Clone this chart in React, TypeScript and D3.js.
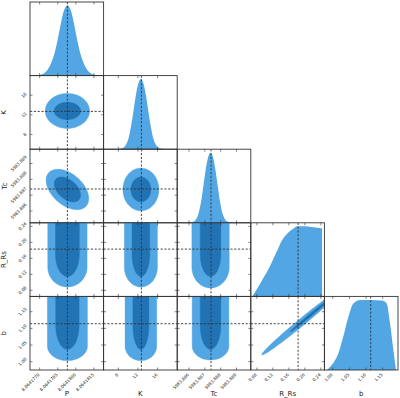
import React from 'react';
import * as d3 from 'd3';

// parameter names, plotted ranges and truth values
const names = ['P', 'K', 'Tc', 'R_Rs', 'b'];
const ranges: [number, number][] = [
  [8.0641762, 8.0641823],
  [5, 20],
  [5983.885254, 5983.889903],
  [0.0648, 0.2488],
  [0.975, 1.196],
];
const truths = [8.0641793, 12.7, 5983.88739, 0.183, 1.114];
const tickValues = [
  [8.064177, 8.0641785, 8.06418, 8.0641815],
  [8, 12, 16],
  [5983.886, 5983.887, 5983.888, 5983.889],
  [0.08, 0.12, 0.16, 0.2, 0.24],
  [1.0, 1.05, 1.1, 1.15],
];
const tickFormats = ['.7f', 'd', '.3f', '.2f', '.2f'];

// 1D marginals, [value, relative density]
const pDensity: [number, number][] = [
  [8.0641766, 0], [8.0641768, 0.005], [8.0641772, 0.02], [8.0641776, 0.07], [8.0641779, 0.16],
  [8.0641782, 0.3], [8.0641785, 0.52], [8.0641788, 0.78], [8.064179, 0.92], [8.0641793, 1.0],
  [8.0641796, 0.92], [8.0641798, 0.78], [8.0641801, 0.52], [8.0641804, 0.3], [8.0641807, 0.16],
  [8.064181, 0.07], [8.0641814, 0.02], [8.0641818, 0.005], [8.064182, 0],
];
const kDensity: [number, number][] = [
  [7.1, 0], [8.1, 0.004], [9.1, 0.025], [9.6, 0.07], [10.1, 0.16], [10.6, 0.33], [11.1, 0.55],
  [11.6, 0.78], [12.1, 0.94], [12.6, 1.0], [13.1, 0.94], [13.6, 0.78], [14.1, 0.55], [14.6, 0.33],
  [15.1, 0.16], [15.6, 0.07], [16.1, 0.025], [17.1, 0.004], [18.1, 0],
];
const tcDensity: [number, number][] = [
  [5983.88576, 0], [5983.88596, 0.002], [5983.88626, 0.015], [5983.88646, 0.055], [5983.88661, 0.14],
  [5983.88676, 0.3], [5983.88691, 0.53], [5983.88706, 0.77], [5983.88721, 0.94], [5983.88736, 1.0],
  [5983.88751, 0.94], [5983.88766, 0.77], [5983.88781, 0.53], [5983.88796, 0.3], [5983.88811, 0.14],
  [5983.88826, 0.055], [5983.88846, 0.015], [5983.88876, 0.002], [5983.88896, 0],
];
const rDensity: [number, number][] = [
  [0.068, 0], [0.0765, 0.07], [0.093, 0.23], [0.11, 0.4], [0.1266, 0.6], [0.143, 0.8], [0.16, 0.92],
  [0.172, 0.97], [0.181, 1.0], [0.2, 1.0], [0.215, 0.99], [0.23, 0.98], [0.243, 0.97], [0.2432, 0],
];
const bDensity: [number, number][] = [
  [0.982, 0], [0.997, 0.07], [1.017, 0.24], [1.032, 0.48], [1.047, 0.76], [1.062, 0.95], [1.082, 1.0],
  [1.115, 1.0], [1.147, 0.99], [1.162, 0.95], [1.172, 0.67], [1.182, 0.29], [1.19, 0],
];
const densities = [pDensity, kDensity, tcDensity, rDensity, bDensity];

// 2D credible regions (level 0 = outer, 1 = inner)
// elliptical ones: centre, half extents and correlation
type Ell = { row: number; col: number; level: number; cx: number; cy: number; sx: number; sy: number; rho: number };
const ellipseContours: Ell[] = [
  { row: 1, col: 0, level: 0, cx: 8.0641793, cy: 12.8, sx: 1.84e-6, sy: 3.57, rho: 0 },
  { row: 1, col: 0, level: 1, cx: 8.0641793, cy: 12.8, sx: 1.1e-6, sy: 1.78, rho: 0 },
  { row: 2, col: 0, level: 0, cx: 8.0641793, cy: 5983.88736, sx: 1.77e-6, sy: 0.00128, rho: -0.45 },
  { row: 2, col: 0, level: 1, cx: 8.0641793, cy: 5983.88736, sx: 1.09e-6, sy: 0.00079, rho: -0.45 },
  { row: 2, col: 1, level: 0, cx: 12.6, cy: 5983.88736, sx: 3.67, sy: 0.00135, rho: 0 },
  { row: 2, col: 1, level: 1, cx: 12.6, cy: 5983.88736, sx: 2.04, sy: 0.00078, rho: 0 },
  { row: 4, col: 3, level: 0, cx: 0.192, cy: 1.119, sx: 0.1, sy: 0.099, rho: 0.99 },
  { row: 4, col: 3, level: 1, cx: 0.214, cy: 1.14, sx: 0.05, sy: 0.05, rho: 0.995 },
];
// regions cut by the upper prior edge: centre, half width, where the bottom bends, bottom
type U = { row: number; col: number; level: number; cx: number; w: number; bend: number; bottom: number };
const uContours: U[] = [
  { row: 3, col: 0, level: 0, cx: 8.0641793, w: 1.63e-6, bend: 0.138, bottom: 0.0883 },
  { row: 3, col: 0, level: 1, cx: 8.0641793, w: 0.99e-6, bend: 0.171, bottom: 0.1146 },
  { row: 3, col: 1, level: 0, cx: 12.6, w: 3.37, bend: 0.138, bottom: 0.0883 },
  { row: 3, col: 1, level: 1, cx: 12.6, w: 1.8, bend: 0.171, bottom: 0.1146 },
  { row: 3, col: 2, level: 0, cx: 5983.88736, w: 0.00118, bend: 0.138, bottom: 0.0858 },
  { row: 3, col: 2, level: 1, cx: 5983.88736, w: 0.00065, bend: 0.171, bottom: 0.1148 },
  { row: 4, col: 0, level: 0, cx: 8.0641793, w: 1.66e-6, bend: 1.047, bottom: 1.003 },
  { row: 4, col: 0, level: 1, cx: 8.0641793, w: 0.97e-6, bend: 1.11, bottom: 1.037 },
  { row: 4, col: 1, level: 0, cx: 12.6, w: 3.23, bend: 1.047, bottom: 1.003 },
  { row: 4, col: 1, level: 1, cx: 12.6, w: 1.63, bend: 1.11, bottom: 1.037 },
  { row: 4, col: 2, level: 0, cx: 5983.88736, w: 0.00116, bend: 1.047, bottom: 1.005 },
  { row: 4, col: 2, level: 1, cx: 5983.88736, w: 0.00065, bend: 1.11, bottom: 1.037 },
];

const LEFT = 30;
const TOP = 2;
const CELL = 73.6;
const N = names.length;
const LIGHT = '#52a6e3';
const DARK = '#2273b4';
const FRAME = '#333';
const TICK_FS = 4.3;

function ellipsePoints(e: Ell): [number, number][] {
  const k = Math.sqrt(1 - e.rho * e.rho);
  return d3.range(73).map((i) => {
    const t = (i / 72) * 2 * Math.PI;
    return [e.cx + e.sx * Math.cos(t), e.cy + e.sy * (e.rho * Math.cos(t) + k * Math.sin(t))];
  });
}

function uPoints(u: U, top: number): [number, number][] {
  const arc = d3.range(37).map((i) => {
    const t = (i / 36) * Math.PI;
    return [u.cx - u.w * Math.cos(t), u.bend - (u.bend - u.bottom) * Math.sin(t)] as [number, number];
  });
  return [[u.cx - u.w, top], ...arc, [u.cx + u.w, top]];
}

function labelWidth(s: string) {
  let w = 0;
  for (const ch of s) w += ch === '.' ? 0.318 : 0.636;
  return w * TICK_FS;
}

export default function App() {
  const xs = ranges.map((r, i) => d3.scaleLinear().domain(r).range([LEFT + i * CELL, LEFT + (i + 1) * CELL]));
  const ys = ranges.map((r, i) => d3.scaleLinear().domain(r).range([TOP + (i + 1) * CELL, TOP + i * CELL]));
  const bottomEdge = TOP + N * CELL;

  const panels: { r: number; c: number }[] = [];
  for (let r = 0; r < N; r++) for (let c = 0; c <= r; c++) panels.push({ r, c });

  const renderPanel = ({ r, c }: { r: number; c: number }) => {
    const x0 = LEFT + c * CELL;
    const y0 = TOP + r * CELL;
    const x = xs[c];
    const y = ys[r];
    const clip = `clip-${r}-${c}`;
    const tickLen = 2.5;
    const marks: React.ReactNode[] = [];

    if (r === c) {
      const hy = d3.scaleLinear().domain([0, 1.05]).range([y0 + CELL, y0]);
      const area = d3.area<[number, number]>()
        .x((d) => x(d[0]))
        .y0(y0 + CELL)
        .y1((d) => hy(d[1]))
        .curve(d3.curveMonotoneX);
      marks.push(<path key="hist" d={area(densities[c]) || ''} fill={LIGHT} />);
    } else {
      const line = d3.line<[number, number]>()
        .x((d) => x(d[0]))
        .y((d) => y(d[1]))
        .curve(d3.curveLinearClosed);
      const topVal = ranges[r][1] + (ranges[r][1] - ranges[r][0]) * 0.2;
      const shapes: { level: number; pts: [number, number][] }[] = [
        ...ellipseContours.filter((e) => e.row === r && e.col === c).map((e) => ({ level: e.level, pts: ellipsePoints(e) })),
        ...uContours.filter((u) => u.row === r && u.col === c).map((u) => ({ level: u.level, pts: uPoints(u, topVal) })),
      ].sort((a, b) => a.level - b.level);
      shapes.forEach((s, i) =>
        marks.push(
          <path key={`c${i}`} d={line(s.pts) || ''} fill={s.level === 0 ? LIGHT : DARK}
            stroke={s.level === 0 ? LIGHT : DARK} strokeWidth={0.4} />
        )
      );
      marks.push(
        <line key="th" x1={x0} x2={x0 + CELL} y1={y(truths[r])} y2={y(truths[r])}
          stroke={FRAME} strokeWidth={0.9} strokeDasharray="2.2,1.6" />
      );
    }
    marks.push(
      <line key="tv" x1={x(truths[c])} x2={x(truths[c])} y1={y0} y2={y0 + CELL}
        stroke={FRAME} strokeWidth={0.9} strokeDasharray="2.2,1.6" />
    );

    const ticks: React.ReactNode[] = [];
    tickValues[c].forEach((v, i) => {
      const tx = x(v);
      ticks.push(<line key={`xb${i}`} x1={tx} x2={tx} y1={y0 + CELL} y2={y0 + CELL - tickLen} stroke={FRAME} strokeWidth={0.6} />);
      ticks.push(<line key={`xt${i}`} x1={tx} x2={tx} y1={y0} y2={y0 + tickLen} stroke={FRAME} strokeWidth={0.6} />);
    });
    if (r !== c) {
      tickValues[r].forEach((v, i) => {
        const ty = y(v);
        ticks.push(<line key={`yl${i}`} x1={x0} x2={x0 + tickLen} y1={ty} y2={ty} stroke={FRAME} strokeWidth={0.6} />);
        ticks.push(<line key={`yr${i}`} x1={x0 + CELL} x2={x0 + CELL - tickLen} y1={ty} y2={ty} stroke={FRAME} strokeWidth={0.6} />);
      });
    }

    const labels: React.ReactNode[] = [];
    if (r === N - 1) {
      const fmt = d3.format(tickFormats[c]);
      tickValues[c].forEach((v, i) => {
        const s = fmt(v);
        const hw = (labelWidth(s) * Math.SQRT1_2) / 2 + 0.8;
        const cx = x(v) - hw;
        const cy = bottomEdge + 3.2 + hw;
        labels.push(
          <text key={`xl${i}`} x={cx} y={cy} fontSize={TICK_FS} textAnchor="middle" dominantBaseline="central"
            transform={`rotate(-45, ${cx}, ${cy})`} fill="#222">{s}</text>
        );
      });
      labels.push(
        <text key="xname" x={x0 + CELL / 2} y={bottomEdge + 24} fontSize={7} textAnchor="middle" dominantBaseline="central" fill="#222">
          {names[c]}
        </text>
      );
    }
    if (c === 0 && r > 0) {
      const fmt = d3.format(tickFormats[r]);
      tickValues[r].forEach((v, i) => {
        const s = fmt(v);
        const hw = (labelWidth(s) * Math.SQRT1_2) / 2 + 0.8;
        const cx = LEFT - 3.2 - hw;
        const cy = y(v);
        labels.push(
          <text key={`yl${i}`} x={cx} y={cy} fontSize={TICK_FS} textAnchor="middle" dominantBaseline="central"
            transform={`rotate(-45, ${cx}, ${cy})`} fill="#222">{s}</text>
        );
      });
      const ly = y0 + CELL / 2;
      labels.push(
        <text key="yname" x={4.5} y={ly} fontSize={7} textAnchor="middle" dominantBaseline="central"
          transform={`rotate(-90, 4.5, ${ly})`} fill="#222">{names[r]}</text>
      );
    }

    return (
      <g key={`p${r}-${c}`}>
        <defs>
          <clipPath id={clip}>
            <rect x={x0} y={y0} width={CELL} height={CELL} />
          </clipPath>
        </defs>
        <g clipPath={`url(#${clip})`}>{marks}</g>
        {ticks}
        <rect x={x0} y={y0} width={CELL} height={CELL} fill="none" stroke={FRAME} strokeWidth={0.9} />
        {labels}
      </g>
    );
  };

  return (
    <svg width={400} height={398} style={{ position: 'absolute', left: 0, top: 0, background: '#fff' }}
      fontFamily="DejaVu Sans">
      {panels.map(renderPanel)}
    </svg>
  );
}
